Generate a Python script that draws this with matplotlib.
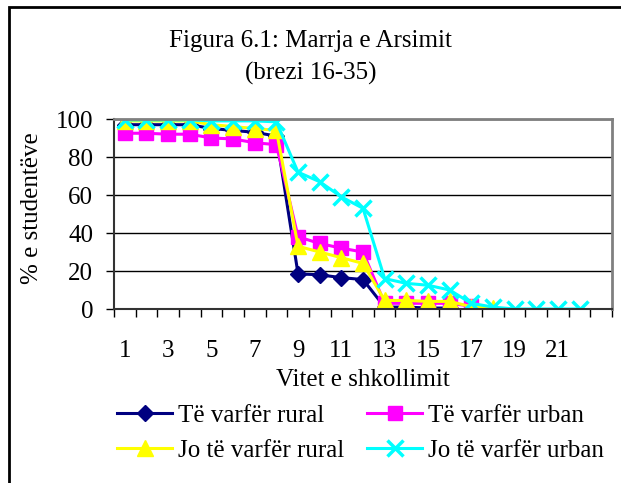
import numpy as np
import matplotlib
matplotlib.use('Agg')
import matplotlib.pyplot as plt
from matplotlib.patches import Rectangle

#Data (years of schooling 1..23, % of students)
years = list(range(1, 24))
tick_years = [1, 3, 5, 7, 9, 11, 13, 15, 17, 19, 21]
poor_rural = [97, 97, 97, 97, 95, 94, 93, 91, 18.5, 18, 16.5, 15.5, 1, 1, 0.5, 0.5]
poor_urban = [92.5, 92.5, 92, 92, 90, 89.5, 87.5, 86.5, 38, 34.5, 32, 30, 3, 3, 3, 3, 1.5]
nonpoor_rural = [99, 99, 99, 99, 97, 96, 95, 94, 33, 30, 27, 24, 4.5, 4.5, 4, 4, 1.2, 0.5]
nonpoor_urban = [99.5, 99.5, 99.5, 99.5, 99, 99, 99, 98.5, 72, 67, 59, 53, 16, 13.5, 12.5, 10, 3, 1, 0, 0, 0, 0]

labels = ['Të varfër rural', 'Të varfër urban', 'Jo të varfër rural', 'Jo të varfër urban']

plt.rcParams['font.family'] = ['Liberation Serif', 'DejaVu Serif']
fs = 18

fig = plt.figure(figsize=(6.21, 4.83), dpi=100)
ax = fig.add_axes([114/621., 1-309/483., 498/621., 190/483.])

#series drawn in Excel order so later ones sit on top
l1, = ax.plot(years[:len(poor_rural)], poor_rural, color='#000080', lw=2.2, marker='D', ms=8, label=labels[0])
l2, = ax.plot(years[:len(poor_urban)], poor_urban, color='#FF00FF', lw=2.2, marker='s', ms=10, label=labels[1])
l3, = ax.plot(years[:len(nonpoor_rural)], nonpoor_rural, color='#FFFF00', lw=2.2, marker='^', ms=11, label=labels[2])
l4, = ax.plot(years[:len(nonpoor_urban)], nonpoor_urban, color='#00FFFF', lw=2.2, marker='x', ms=11, mew=2.5, label=labels[3])

ax.set_xlim(0.5, len(years) + 0.5)
ax.set_ylim(0, 100)
ax.set_yticks(range(0, 101, 20))
ax.yaxis.grid(True, color='black', lw=1)
ax.set_axisbelow(True)

#category ticks sit between the categories, labels on odd years
ax.set_xticks(tick_years)
ax.set_xticks(np.arange(0.5, len(years) + 1, 1), minor=True)
ax.tick_params(axis='x', which='major', length=0, pad=22, labelsize=fs)
ax.tick_params(axis='x', which='minor', length=6, width=1, direction='out')
ax.tick_params(axis='y', length=6, width=1, pad=9, labelsize=fs)

for s in ['top', 'right']:
	ax.spines[s].set_color('#808080')
	ax.spines[s].set_linewidth(2)
for s in ['left', 'bottom']:
	ax.spines[s].set_color('#333333')
	ax.spines[s].set_linewidth(1.5)

ax.set_xlabel('Vitet e shkollimit', fontsize=fs)
ax.xaxis.set_label_coords(0.5, (309-369)/190.)
fig.text(32/621., 1-208/483., '% e studentëve', rotation=90, ha='center', va='center', fontsize=fs)

fig.text(0.5, 1-41/483., 'Figura 6.1: Marrja e Arsimit', ha='center', va='center', fontsize=fs)
fig.text(0.5, 1-73/483., '(brezi 16-35)', ha='center', va='center', fontsize=fs)

#legend rows: navy/magenta then yellow/cyan
fig.legend([l1, l3, l2, l4], [labels[0], labels[2], labels[1], labels[3]], ncol=2,
	loc='center left', bbox_to_anchor=(117/621., 1-433/483.), frameon=False, fontsize=fs,
	borderpad=0, borderaxespad=0, handlelength=2.2, handletextpad=0.25,
	columnspacing=0.9, labelspacing=0.5)

#outer chart frame
fig.patches.append(Rectangle((9/621., -0.1), 1.1, 1.1 - 7/483., transform=fig.transFigure,
	fill=False, edgecolor='black', lw=2, clip_on=False))

fig.savefig('out.png', dpi=100)
